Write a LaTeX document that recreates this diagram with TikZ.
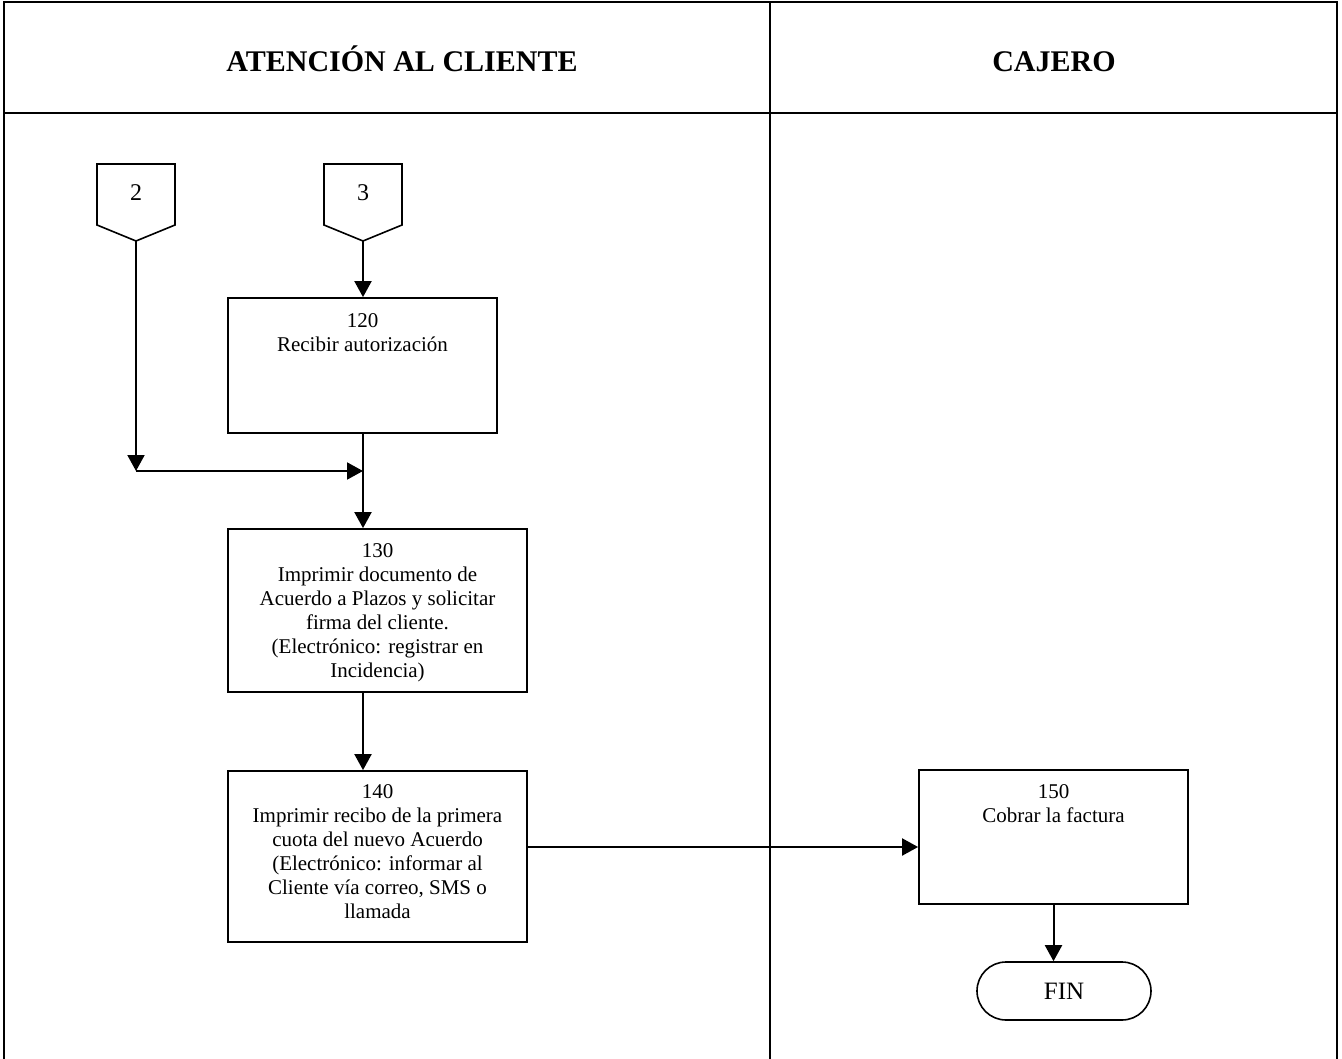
\documentclass[tikz,border=0pt]{standalone}
\usepackage{fontspec}
\setmainfont{Liberation Serif}
\usetikzlibrary{arrows.meta,calc}
\begin{document}
\begin{tikzpicture}[x=1pt,y=-1pt,
  frame/.style={line width=2.6pt},
  procbox/.style={draw,line width=1.8pt,inner sep=0pt,rectangle},
  boxtext/.style={anchor=north,inner sep=0pt,align=center,font=\fontsize{21}{24}\selectfont},
  head/.style={anchor=base,font=\fontsize{30}{34}\selectfont\bfseries},
  flow/.style={line width=2pt,-{Triangle[length=16pt,width=17pt]}},
  offpage/.style={draw,line width=1.6pt},
  lbl/.style={font=\fontsize{24}{28}\selectfont,inner sep=0pt}
]
\useasboundingbox (0,0) rectangle (1342,1059);
% frame
\draw[frame] (4,1059) -- (4,2) -- (1337,2) -- (1337,1059);
\draw[frame] (4,113) -- (1337,113);
\draw[line width=2.2pt] (770,2) -- (770,1059);
% headers
\node[head] (h1) at (402,72) {ATENCIÓN AL CLIENTE};
\node[head] (h2) at (1054,72) {CAJERO};
% off-page connectors
\draw[offpage] (97,164) -- (175,164) -- (175,225) -- (136,241) -- (97,225) -- cycle;
\node[lbl] (c2) at (136,193) {2};
\coordinate (c2tip) at (136,241);
\draw[offpage] (324,164) -- (402,164) -- (402,225) -- (363,241) -- (324,225) -- cycle;
\node[lbl] (c3) at (363,193) {3};
\coordinate (c3tip) at (363,241);
% boxes
\node[procbox,minimum width=269pt,minimum height=135pt] (b120) at (362.5,365.5) {};
\node[boxtext] (t120) at ($(b120.north)+(0,16)$) {120\\Recibir autorización};
\node[procbox,minimum width=299pt,minimum height=163pt] (b130) at (377.5,610.5) {};
\node[boxtext] (t130) at ($(b130.north)+(0,15)$) {130\\Imprimir documento de\\Acuerdo a Plazos y solicitar\\firma del cliente.\\(Electrónico: registrar en\\Incidencia)};
\node[procbox,minimum width=299pt,minimum height=171pt] (b140) at (377.5,856.5) {};
\node[boxtext] (t140) at ($(b140.north)+(0,14)$) {140\\Imprimir recibo de la primera\\cuota del nuevo Acuerdo\\(Electrónico: informar al\\Cliente vía correo, SMS o\\llamada};
\node[procbox,minimum width=269pt,minimum height=134pt] (b150) at (1053.5,837) {};
\node[boxtext] (t150) at ($(b150.north)+(0,15)$) {150\\Cobrar la factura};
\node[draw,line width=1.6pt,rounded corners=29pt,minimum width=174pt,minimum height=58pt,inner sep=0pt,font=\fontsize{25}{28}\selectfont] (fin) at (1064,991) {FIN};
% connectors
\coordinate (m2) at (136,471);
\coordinate (j2) at (363,471);
\coordinate (e140) at (527,847);
\draw[flow] (c2tip) -- (m2);
\draw[flow] (m2) -- (j2);
\draw[flow] (c3tip) -- (c3tip |- b120.north);
\draw[flow] (c3tip |- b120.south) -- (c3tip |- b130.north);
\draw[flow] (c3tip |- b130.south) -- (c3tip |- b140.north);
\draw[flow] (e140) -- (e140 -| b150.west);
\draw[flow] (b150.south) -- (b150.south |- fin.north);
\end{tikzpicture}
\end{document}
